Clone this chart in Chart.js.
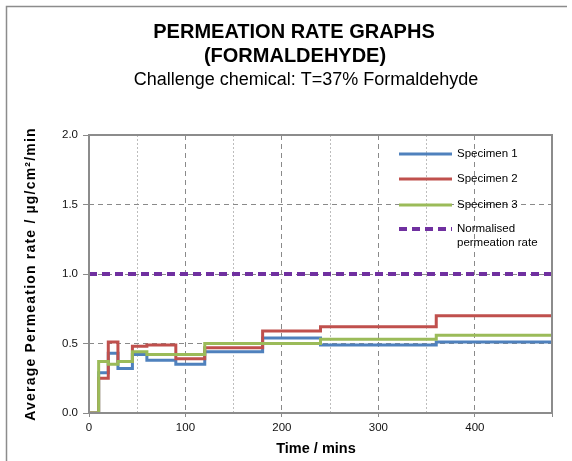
<!DOCTYPE html>
<html>
<head>
<meta charset="utf-8">
<script src="https://cdn.jsdelivr.net/npm/chart.js@4/dist/chart.umd.min.js"></script>
<style>
html,body{margin:0;padding:0;background:#fff;}
#wrap{width:572px;height:461px;position:relative;}
</style>
</head>
<body>
<div id="wrap"><canvas id="c" width="572" height="461"></canvas></div>
<script>
// ---- data ----
const times = [0, 10, 20, 30, 45, 60, 90, 120, 180, 240, 360, 480];
// value listed at each time is the rate over the interval ending at that time
const specimen1 = [0, 0, 0.29, 0.43, 0.32, 0.42, 0.38, 0.35, 0.44, 0.54, 0.49, 0.51];
const specimen2 = [0, 0, 0.25, 0.51, 0.37, 0.48, 0.49, 0.39, 0.47, 0.59, 0.62, 0.70];
const specimen3 = [0, 0, 0.37, 0.35, 0.37, 0.44, 0.42, 0.42, 0.50, 0.50, 0.53, 0.56];
const normalisedTimes = [0, 480];
const normalisedRate = [1.0, 1.0];
const seriesLabels = ['Specimen 1', 'Specimen 2', 'Specimen 3', 'Normalised|permeation rate'];
const xTickLabels = ['0', '100', '200', '300', '400'];
const titleLines = ['PERMEATION RATE GRAPHS', '(FORMALDEHYDE)'];
const subtitleText = 'Challenge chemical: T=37% Formaldehyde';
const xTitle = 'Time / mins';
const yTitle = 'Average Permeation rate / µg/cm²/min';

const colors = ['#4F81BD', '#C0504D', '#9BBB59', '#7030A0'];
const FONT = '"Liberation Sans", Arial, sans-serif';

function pts(xs, ys){ return xs.map((x,i)=>({x:x, y:ys[i]})); }

const datasets = [
  {label: seriesLabels[0], data: pts(times, specimen1), borderColor: colors[0], borderWidth: 3, stepped: 'after', pointRadius: 0, fill:false, order: 3},
  {label: seriesLabels[1], data: pts(times, specimen2), borderColor: colors[1], borderWidth: 3, stepped: 'after', pointRadius: 0, fill:false, order: 2},
  {label: seriesLabels[2], data: pts(times, specimen3), borderColor: colors[2], borderWidth: 3, stepped: 'after', pointRadius: 0, fill:false, order: 1},
  {label: seriesLabels[3], data: pts(normalisedTimes, normalisedRate), borderColor: colors[3], borderWidth: 4, borderDash: [8,5], pointRadius: 0, fill:false, order: 0}
];

const decor = {
  id: 'decor',
  beforeDraw(chart){
    const ctx = chart.ctx;
    ctx.save();
    ctx.fillStyle = '#fff';
    ctx.fillRect(0,0,chart.width,chart.height);
    ctx.strokeStyle = '#8c8c8c';
    ctx.lineWidth = 1.5;
    ctx.beginPath();
    ctx.moveTo(6.5, 470); ctx.lineTo(6.5, 6.5); ctx.lineTo(567, 6.5);
    ctx.stroke();
    ctx.restore();
  },
  afterDraw(chart){
    const ctx = chart.ctx;
    const a = chart.chartArea;
    ctx.save();
    // plot frame
    ctx.strokeStyle = '#8c8c8c';
    ctx.lineWidth = 2;
    ctx.strokeRect(a.left, a.top, a.right - a.left, a.bottom - a.top);
    // titles
    ctx.fillStyle = '#000';
    ctx.textAlign = 'center';
    ctx.textBaseline = 'middle';
    ctx.font = 'bold 20px ' + FONT;
    ctx.fillText(titleLines[0], 294, 32);
    ctx.fillText(titleLines[1], 295, 56);
    ctx.font = '18px ' + FONT;
    ctx.fillText(subtitleText, 306, 80);
    // axis titles
    ctx.font = 'bold 14.5px ' + FONT;
    ctx.fillText(xTitle, 316, 449);
    ctx.save();
    ctx.translate(31, 274);
    ctx.rotate(-Math.PI/2);
    ctx.font = 'bold 14px ' + FONT;
    try { ctx.letterSpacing = '1.2px'; } catch(e) {}
    ctx.fillText(yTitle, 0, 0);
    try { ctx.letterSpacing = '0px'; } catch(e) {}
    ctx.restore();
    // legend
    const ds = chart.data.datasets;
    const rows = [154, 179, 205, 229];
    ctx.textAlign = 'left';
    ctx.font = '11.5px ' + FONT;
    ds.forEach((d, i) => {
      const y = rows[i];
      ctx.beginPath();
      ctx.strokeStyle = d.borderColor;
      ctx.lineWidth = d.borderWidth;
      ctx.setLineDash(d.borderDash || []);
      ctx.moveTo(399, y); ctx.lineTo(452, y);
      ctx.stroke();
      ctx.setLineDash([]);
      ctx.fillStyle = '#000';
      const parts = d.label.split('|');
      parts.forEach((p, k) => ctx.fillText(p, 457, y + k * 14));
    });
    ctx.restore();
  }
};

new Chart(document.getElementById('c'), {
  type: 'line',
  data: { datasets },
  options: {
    responsive: false,
    animation: false,
    devicePixelRatio: 1,
    layout: { padding: { left: 0, right: 20, top: 135, bottom: 0 } },
    plugins: { legend: { display: false }, title: { display: false }, tooltip: { enabled: false } },
    scales: {
      x: {
        type: 'linear', min: 0, max: 480,
        afterFit(s){ s.height = 48; },
        ticks: { stepSize: 100, color: '#111', font: { family: FONT, size: 11.5 }, padding: 4, maxRotation: 0,
                 callback: (v) => { const k = xTickLabels.indexOf(String(v)); return k >= 0 ? xTickLabels[k] : ''; } },
        grid: { color: '#8a8a8a', lineWidth: 1, tickLength: 4, tickColor: '#8a8a8a' },
        border: { display: false, dash: [5, 4] }
      },
      x2: {
        type: 'linear', min: 0, max: 480, position: 'bottom', display: true,
        afterFit(s){ s.height = 0; },
        ticks: { stepSize: 50, display: false },
        grid: { color: (c) => (c.tick && c.tick.value % 100 === 50) ? '#bdbdbd' : 'rgba(0,0,0,0)', lineWidth: 1, drawTicks: false },
        border: { display: false, dash: [2, 2] }
      },
      y: {
        min: 0, max: 2, 
        afterFit(s){ s.width = 89; },
        ticks: { stepSize: 0.5, color: '#111', font: { family: FONT, size: 11.5 }, padding: 5, callback: v => v.toFixed(1) },
        grid: { color: (c) => (c.tick && (c.tick.value === 0 || c.tick.value === 2)) ? 'rgba(0,0,0,0)' : '#8a8a8a', lineWidth: 1, tickLength: 6, tickColor: '#8a8a8a' },
        border: { display: false, dash: [5, 4] }
      }
    }
  },
  plugins: [decor]
});
</script>
</body>
</html>
